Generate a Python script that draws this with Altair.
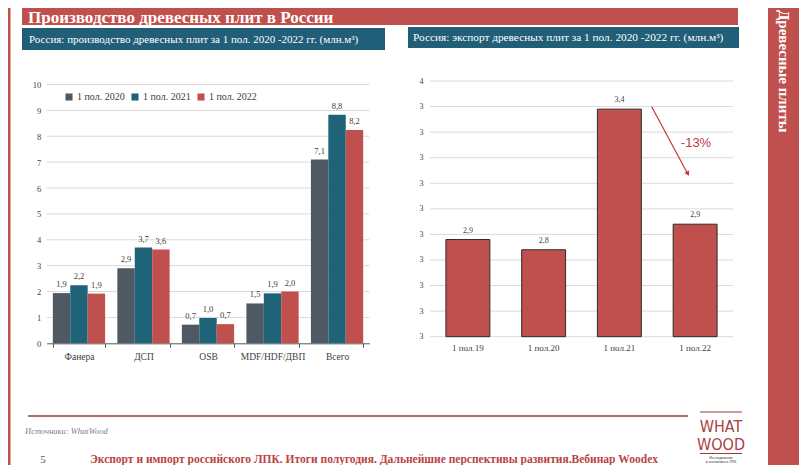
import altair as alt
import pandas as pd

# ---------------- data ----------------
categories = ["Фанера", "ДСП", "OSB", "MDF/HDF/ДВП", "Всего"]
periods = ["1 пол. 2020", "1 пол. 2021", "1 пол. 2022"]
prod_2020 = [1.94, 2.90, 0.72, 1.54, 7.10]
prod_2021 = [2.24, 3.70, 0.98, 1.93, 8.83]
prod_2022 = [1.92, 3.62, 0.74, 2.00, 8.24]

export_periods = ["1 пол.19", "1 пол.20", "1 пол.21", "1 пол.22"]
export_values = [2.88, 2.84, 3.39, 2.94]

left_ticks = [0, 1, 2, 3, 4, 5, 6, 7, 8, 9, 10]
right_ticks = [2.5, 2.6, 2.7, 2.8, 2.9, 3.0, 3.1, 3.2, 3.3, 3.4, 3.5]

title_text = "Производство древесных плит в России"
left_sub = "Россия: производство древесных плит за 1 пол. 2020 -2022 гг. (млн.м³)"
right_sub = "Россия: экспорт древесных плит за 1 пол. 2020 -2022 гг. (млн.м³)"
side_text = "Древесные плиты"
source_text = "Источники: WhatWood"
page_text = "5"
footer_text = "Экспорт и импорт российского ЛПК. Итоги полугодия. Дальнейшие перспективы развития.Вебинар Woodex"
change_text = "-13%"

# ---------------- style ----------------
SERIF = "Liberation Serif"
NARROW = "'DejaVu Sans Condensed', 'Roboto Condensed', 'DejaVu Sans', sans-serif"
RED = "#C0504D"
DARKRED = "#9B3B3A"
TEAL_BOX = "#215E78"
BAR_COLORS = ["#4E5964", "#1E6377", "#C0504D"]
GRID = "#DADADA"
TXT = "#404040"

prod_rows = []
for cat, a, b, c in zip(categories, prod_2020, prod_2021, prod_2022):
    for p, v in zip(periods, (a, b, c)):
        prod_rows.append({"category": cat, "period": p, "value": v})
prod_df = pd.DataFrame(prod_rows)
exp_df = pd.DataFrame({"period": export_periods, "value": export_values})
one = pd.DataFrame({"k": [0]})

# ---------------- left chart ----------------
xl = alt.X("category:N", sort=categories, title=None,
           scale=alt.Scale(range=[38.7, 361.3], paddingInner=0.19, paddingOuter=0.095),
           axis=alt.Axis(orient="bottom", offset=-121.7, domainColor="#595959",
                         tickColor="#595959", tickBand="extent", tickSize=4,
                         labelPadding=4, labelFont=SERIF, labelFontSize=9.5,
                         labelColor=TXT, labelAngle=0, grid=False))
yl = alt.Y("value:Q", title=None,
           scale=alt.Scale(domain=[0, 10], range=[335.3, 76.5], nice=False),
           axis=alt.Axis(orient="left", offset=-38.7, values=left_ticks, domain=False,
                         ticks=False, tickSize=0, labelPadding=6, grid=False,
                         labelFont=SERIF, labelFontSize=8.5, labelColor=TXT))

left_grid = alt.Chart(pd.DataFrame({"value": left_ticks[1:]})).mark_rule(
    color=GRID, strokeWidth=1).encode(y=yl, x=alt.value(38.7), x2=alt.value(361.3))

left_bars = alt.Chart(prod_df).mark_bar().encode(
    x=xl, y=yl,
    xOffset=alt.XOffset("period:N", sort=periods),
    color=alt.Color("period:N", sort=periods,
                    scale=alt.Scale(domain=periods, range=BAR_COLORS),
                    legend=alt.Legend(orient="none", legendX=56, legendY=84,
                                      direction="horizontal", title=None,
                                      symbolType="square", symbolSize=50,
                                      symbolStrokeWidth=0, labelFont=SERIF,
                                      labelFontSize=10, labelColor=TXT,
                                      columnPadding=5, labelOffset=3)))

left_text = alt.Chart(prod_df).transform_calculate(
    label="replace(format(datum.value, '.1f'), '.', ',')"
).mark_text(font=SERIF, fontSize=8.5, color=TXT, baseline="middle", dy=-9).encode(
    x=xl, y=yl, xOffset=alt.XOffset("period:N", sort=periods), text="label:N")

left = alt.layer(left_grid, left_bars, left_text)

# ---------------- right chart ----------------
xr = alt.X("period:N", sort=export_periods, title=None,
           scale=alt.Scale(range=[422, 725], paddingInner=0.42, paddingOuter=0.21),
           axis=alt.Axis(orient="bottom", offset=-128.3, domain=False, ticks=False,
                         tickSize=0, labelPadding=7, labelFont=SERIF, labelFontSize=9,
                         labelColor=TXT, labelAngle=0, grid=False))
yr = alt.Y("value:Q", title=None,
           scale=alt.Scale(domain=[2.5, 3.5], range=[328.7, 73], nice=False, zero=False),
           axis=alt.Axis(orient="left", offset=-422, values=right_ticks, domain=False,
                         ticks=False, tickSize=0, labelPadding=7, grid=False,
                         labelExpr="format(datum.value, '.0f')",
                         labelFont=SERIF, labelFontSize=8, labelColor=TXT))

right_grid = alt.Chart(pd.DataFrame({"value": right_ticks})).mark_rule(
    color=GRID, strokeWidth=1).encode(y=yr, x=alt.value(422), x2=alt.value(725))

right_bars = alt.Chart(exp_df).mark_bar(color=RED, stroke="#2b2b2b", strokeWidth=1).encode(
    x=xr, y=yr, y2=alt.datum(2.5))

right_text = alt.Chart(exp_df).transform_calculate(
    label="replace(format(datum.value, '.1f'), '.', ',')"
).mark_text(font=SERIF, fontSize=8, color=TXT, baseline="middle", dy=-9).encode(
    x=xr, y=yr, text="label:N")

right = alt.layer(right_grid, right_bars, right_text)

# ---------------- slide decorations ----------------
def rect(x, x2, y, y2, color):
    return alt.Chart(one).mark_rect(color=color).encode(
        x=alt.value(x), x2=alt.value(x2), y=alt.value(y), y2=alt.value(y2))

def label(text, x, y, **kw):
    return alt.Chart(one).mark_text(text=text, **kw).encode(
        x=alt.value(x), y=alt.value(y))

decor = [
    rect(0, 2.5, 0, 457, RED),                 # left stripe
    rect(760, 791, 0, 457, RED),               # right band
    rect(14, 730, 0, 17, RED),                 # title bar
    rect(14, 377, 20, 42, TEAL_BOX),           # left subtitle box
    rect(400, 731, 19, 40, TEAL_BOX),          # right subtitle box
    label(title_text, 20, 9.5, font=SERIF, fontSize=17, fontWeight="bold",
          color="white", align="left", baseline="middle"),
    label(left_sub, 21, 31.5, font=SERIF, fontSize=11, color="white",
          align="left", baseline="middle"),
    label(right_sub, 405, 29.5, font=SERIF, fontSize=11.3, color="white",
          align="left", baseline="middle"),
    label(side_text, 776, 2, font=SERIF, fontSize=15, fontWeight="bold",
          color="white", align="left", baseline="middle", angle=90),
    alt.Chart(one).mark_rule(color=DARKRED, strokeWidth=1.5).encode(
        x=alt.value(20), x2=alt.value(680), y=alt.value(408)),
    label(source_text, 17, 423, font=SERIF, fontSize=8.5, fontStyle="italic",
          color="#7F7F7F", align="left", baseline="middle"),
    label(page_text, 35, 452, font=SERIF, fontSize=11, color="#595959",
          align="center", baseline="middle"),
    label(footer_text, 82, 455, font=SERIF, fontSize=11.5, fontWeight="bold",
          color="#B9433F", align="left", baseline="alphabetic"),
    # logo
    alt.Chart(one).mark_rule(color=DARKRED, strokeWidth=1).encode(
        x=alt.value(692), x2=alt.value(734), y=alt.value(404)),
    label("WHAT", 713, 424, font=NARROW, fontSize=16,
          color="#A8423F", align="center", baseline="alphabetic"),
    label("WOOD", 713, 442, font=NARROW, fontSize=16,
          color="#A8423F", align="center", baseline="alphabetic"),
    alt.Chart(one).mark_rule(color=DARKRED, strokeWidth=1).encode(
        x=alt.value(692), x2=alt.value(734), y=alt.value(445.5)),
    label("Исследования", 713, 449.5, fontSize=3.5, color="#333333",
          align="center", baseline="middle"),
    label("и аналитика в ЛПК", 713, 453.5, fontSize=3.5, color="#333333",
          align="center", baseline="middle"),
]

arrow = [
    alt.Chart(one).mark_rule(color="#C0393B", strokeWidth=1.2).encode(
        x=alt.value(643.7), x2=alt.value(679), y=alt.value(98.7), y2=alt.value(164.5)),
    alt.Chart(one).mark_point(shape="triangle", filled=True, color="#C0393B",
                              size=28, angle=152, opacity=1).encode(
        x=alt.value(679.5), y=alt.value(165)),
    label(change_text, 688, 135, font="Liberation Sans", fontSize=13,
          color="#C0393B", align="center", baseline="middle"),
]

chart = alt.layer(*decor, left, right, *arrow).resolve_scale(
    x="independent", y="independent", xOffset="independent", color="independent"
).properties(
    width=791, height=457, padding=0,
    autosize=alt.AutoSizeParams(type="none"),
).configure_view(stroke=None)

chart.save("out.html", embed_options={"renderer": "svg", "actions": False})
